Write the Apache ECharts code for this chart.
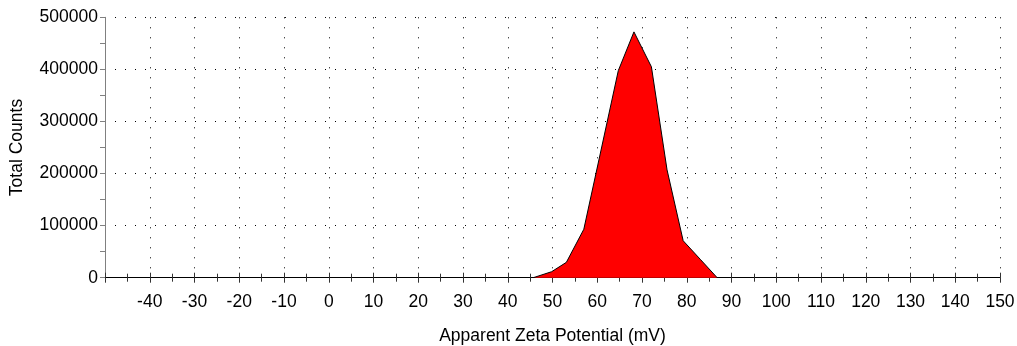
<!DOCTYPE html>
<html>
<head>
<meta charset="utf-8">
<script src="https://cdn.jsdelivr.net/npm/echarts@6/dist/echarts.min.js"></script>
<style>
  html, body { margin: 0; padding: 0; background: #fff; }
  #chart { width: 1017px; height: 346px; }
</style>
</head>
<body>
<div id="chart"></div>
<script>
// Zeta potential distribution
const zeta = [45.7, 49.8, 53.1, 57.0, 61.0, 64.7, 68.2, 72.1, 75.6, 79.2, 83.0, 86.8];
const counts = [0, 11500, 29500, 93000, 251000, 397500, 472000, 405000, 207000, 71000, 35500, 0];

const xTicks = [-50, 150, 10];      // min, max, step (mV)
const yTicks = [0, 500000, 100000]; // min, max, step (counts)

const FONT = '"Liberation Sans", Arial, sans-serif';
const FS = 17.5;

const chart = echarts.init(document.getElementById('chart'), null, { renderer: 'canvas' });

const dotted = { color: '#000', width: 1, type: [1, 9] };

chart.setOption({
  animation: false,
  backgroundColor: '#fff',
  grid: {
    left: 105, right: 17, top: 17.3, bottom: 68.3,
    containLabel: false,
    outerBoundsMode: 'none'
  },
  xAxis: [
    {
      type: 'value',
      min: xTicks[0], max: xTicks[1], interval: xTicks[2],
      name: 'Apparent Zeta Potential (mV)',
      nameLocation: 'middle',
      nameGap: 49,
      nameTextStyle: { fontFamily: FONT, fontSize: FS, color: '#000' },
      axisLine: { show: true, onZero: false, lineStyle: { color: '#000', width: 1 } },
      axisTick: { show: true, inside: false, length: 5, lineStyle: { color: '#333' } },
      minorTick: { show: true, splitNumber: 2, length: 4, lineStyle: { color: '#333' } },
      axisLabel: {
        fontFamily: FONT, fontSize: FS, color: '#000', margin: 15,
        formatter: v => (v === xTicks[0] ? '' : String(v))
      },
      splitLine: { show: true, lineStyle: dotted },
      minorSplitLine: { show: false }
    },
    {
      // inner half of the crossing ticks
      type: 'value',
      position: 'bottom',
      min: xTicks[0], max: xTicks[1], interval: xTicks[2],
      axisLine: { show: false, onZero: false },
      axisTick: { show: true, inside: true, length: 5, lineStyle: { color: '#333' } },
      minorTick: { show: true, splitNumber: 2, length: 4, lineStyle: { color: '#333' } },
      axisLabel: { show: false },
      splitLine: { show: false }
    }
  ],
  yAxis: [
    {
      type: 'value',
      min: yTicks[0], max: yTicks[1], interval: yTicks[2],
      name: 'Total Counts',
      nameLocation: 'middle',
      nameRotate: 90,
      nameGap: 79,
      nameTextStyle: { fontFamily: FONT, fontSize: FS, color: '#000' },
      axisLine: { show: true, onZero: false, lineStyle: { color: '#808080', width: 1 } },
      axisTick: { show: true, inside: false, length: 5, lineStyle: { color: '#808080' } },
      minorTick: { show: true, splitNumber: 2, length: 5, lineStyle: { color: '#808080' } },
      axisLabel: {
        fontFamily: FONT, fontSize: FS, color: '#000', margin: 7,
        formatter: v => String(v)
      },
      splitLine: { show: true, lineStyle: dotted },
      minorSplitLine: { show: false }
    },
    {
      type: 'value',
      position: 'left',
      min: yTicks[0], max: yTicks[1], interval: yTicks[2],
      axisLine: { show: false, onZero: false },
      axisTick: { show: false },
      minorTick: { show: true, splitNumber: 2, length: 5, inside: true, lineStyle: { color: '#808080' } },
      axisLabel: { show: false },
      splitLine: { show: false }
    }
  ],
  series: [
    {
      type: 'line',
      xAxisIndex: 0,
      yAxisIndex: 0,
      data: zeta.map((z, i) => [z, counts[i]]),
      showSymbol: false,
      symbol: 'none',
      smooth: false,
      lineStyle: { color: '#000', width: 1 },
      areaStyle: { color: '#ff0000', opacity: 1 },
      z: 3
    }
  ]
});
</script>
</body>
</html>
